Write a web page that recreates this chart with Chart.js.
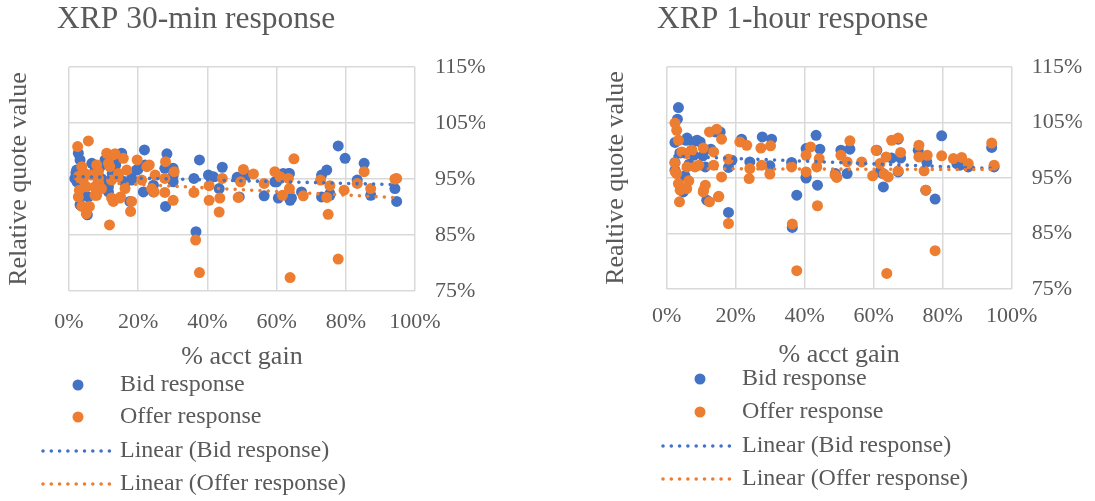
<!DOCTYPE html>
<html>
<head>
<meta charset="utf-8">
<script src="https://cdn.jsdelivr.net/npm/chart.js@4.4.1/dist/chart.umd.min.js"></script>
<style>
body { margin: 0; background: #fff; }
#wrap { position: relative; width: 1095px; height: 501px; }
canvas { position: absolute; top: 0; }
#c30 { left: 0; }
#c60 { left: 545px; }
</style>
</head>
<body>
<div id="wrap">
  <canvas id="c30" width="545" height="501"></canvas>
  <canvas id="c60" width="550" height="501"></canvas>
</div>
<script>
// ticks (percent)
const xTicks = [0, 20, 40, 60, 80, 100];
const yTicks = [75, 85, 95, 105, 115];

// XRP 30-min: [% acct gain, relative quote value %]
const bid30 = [
  [2.7,99.6],[3.2,98.4],[2.0,96.1],[2.3,94.5],[3.2,90.4],[5.3,88.6],[5.6,91.8],[6.6,97.8],[9.0,97.2],[11.4,93.6],
  [14.7,99.0],[15.2,99.6],[16.2,94.3],[18.1,95.1],[17.6,91.0],[19.9,96.7],[21.8,100.2],[21.5,92.7],[24.4,93.9],[28.3,99.5],
  [27.9,90.1],[30.1,96.9],[30.1,95.6],[36.1,95.1],[37.7,98.4],[36.7,85.6],[40.3,95.7],[41.7,95.4],[43.4,93.3],[44.3,97.1],
  [48.6,95.3],[49.2,91.8],[51.2,95.7],[56.4,92.0],[59.5,94.5],[60.5,91.6],[61.9,96.0],[63.7,96.0],[63.9,91.2],[67.2,92.7],
  [73.0,95.7],[73.0,91.8],[74.5,96.6],[77.8,100.9],[79.8,98.7],[85.3,97.8],[83.3,94.8],[87.2,92.1],[94.2,93.3],[94.7,91.0],
  [75.4,92.1],[19.5,96.6],[22.0,97.5],[27.7,96.9],[30.1,94.5],[11.4,92.7],[24.4,92.7],[18.1,94.8],[2.2,96.6],[1.7,95.1],
  [10.4,98.4],[4.6,92.1],[4.0,95.5],[7.5,96.5],[9.5,95.0],[12.5,96.0],[13.5,97.5],[49.2,95.1],[60.0,94.5],[64.3,91.6],
  [63.5,96.0],[75.4,92.4]
];
const offer30 = [
  [2.5,100.8],[5.6,101.8],[3.7,97.2],[2.7,91.8],[3.7,90.1],[5.0,88.8],[5.9,90.1],[5.1,93.6],[7.5,93.6],[8.0,92.1],
  [6.6,95.7],[10.9,99.6],[12.8,99.3],[15.7,98.7],[11.7,86.8],[12.8,91.0],[11.8,97.2],[14.3,96.0],[14.9,91.8],[18.1,91.0],
  [17.8,89.2],[19.7,98.4],[22.5,97.2],[23.2,97.5],[24.9,95.7],[23.9,93.3],[24.6,92.7],[27.9,98.1],[27.7,95.1],[27.7,92.6],
  [30.1,91.2],[30.4,96.3],[36.1,92.6],[36.6,84.1],[37.7,78.3],[40.5,93.8],[40.5,91.2],[43.6,91.6],[43.4,89.1],[44.3,95.1],
  [48.9,91.7],[49.6,94.5],[50.4,96.7],[53.3,95.9],[56.4,94.2],[59.5,96.3],[61.0,95.4],[61.7,92.1],[63.4,95.1],[63.9,77.4],
  [65.0,98.6],[63.7,93.3],[67.7,92.0],[72.7,94.8],[74.5,91.7],[74.9,88.7],[75.4,93.8],[77.8,80.7],[79.5,93.0],[83.3,94.2],
  [85.3,96.3],[87.2,93.3],[94.2,95.0],[94.7,95.1],[13.3,99.5],[8.0,97.5],[11.4,97.8],[4.1,94.8],[8.5,95.1],[12.3,94.8],
  [14.3,95.4],[16.7,96.6],[21.0,94.8],[7.5,92.1],[12.3,91.6],[14.7,91.6],[9.4,93.3],[4.6,96.0],[8.5,96.3],[16.2,93.3],
  [3.0,93.0],[2.8,95.5]
];

// XRP 1-hour
const bid60 = [
  [3.4,107.7],[3.1,105.6],[2.4,101.4],[5.6,101.8],[7.7,101.5],[9.7,101.5],[2.4,97.8],[2.4,96.4],[5.3,95.4],[4.8,92.5],
  [7.2,100.0],[11.6,91.0],[15.5,103.3],[17.9,88.8],[17.9,96.9],[21.7,102.0],[24.1,97.9],[27.7,102.4],[30.4,102.0],[29.9,97.2],
  [36.2,97.8],[36.4,86.1],[37.7,91.9],[40.4,100.3],[40.4,95.0],[43.3,102.7],[44.4,100.2],[43.7,93.7],[48.9,95.8],[50.5,100.0],
  [53.1,100.2],[52.3,95.8],[60.9,100.0],[62.8,93.4],[62.7,95.8],[65.2,98.6],[67.1,102.0],[67.8,98.6],[72.9,100.0],[75.4,97.9],
  [75.1,92.8],[77.8,91.2],[79.7,102.6],[84.1,97.6],[87.4,97.0],[94.2,100.5],[94.9,97.0],[5.9,102.2],[8.8,101.8],[11.2,97.0],
  [18.9,98.2],[14.1,103.3],[7.8,99.1],[4.4,93.1],[10.5,99.0],[12.8,100.2],[3.8,99.5],[6.5,97.5],[85.0,97.3],[61.8,96.1],
  [67.1,96.1],[40.4,95.2]
];
const offer60 = [
  [2.4,104.9],[2.9,103.6],[3.4,101.8],[2.4,97.7],[2.9,95.8],[3.4,94.0],[3.9,92.8],[3.7,90.7],[5.8,93.1],[5.8,99.4],
  [8.2,97.0],[10.6,100.4],[10.6,92.5],[12.4,103.3],[14.5,103.8],[15.9,102.0],[15.0,91.6],[12.4,90.7],[15.9,95.2],[17.9,86.8],
  [17.9,98.4],[21.2,101.5],[23.2,100.9],[23.9,94.9],[24.1,96.7],[27.3,100.4],[27.5,97.3],[30.1,100.8],[29.9,95.7],[36.2,97.0],
  [36.4,86.7],[37.7,78.3],[40.4,99.1],[41.7,100.6],[40.4,96.1],[43.5,97.0],[44.2,98.5],[43.7,90.0],[48.8,95.5],[49.3,95.1],
  [50.5,99.1],[53.1,101.7],[52.3,97.9],[56.5,97.9],[59.7,95.4],[60.7,100.0],[61.8,97.6],[63.6,98.8],[63.0,95.7],[64.2,95.2],
  [63.8,77.8],[65.2,101.8],[67.1,102.2],[67.8,99.6],[67.1,96.3],[73.1,100.9],[73.1,98.8],[75.5,99.1],[74.6,96.3],[75.1,92.8],
  [77.8,81.9],[79.7,99.0],[83.1,98.5],[85.5,98.7],[87.4,97.6],[94.2,101.3],[94.9,97.3],[4.4,99.7],[7.3,100.0],[13.6,99.7],
  [5.9,97.0],[9.3,97.3],[13.6,97.3],[2.5,96.1],[6.4,94.5],[10.7,92.8],[11.2,93.7],[15.1,91.7]
];

const blue = '#4472C4';
const orange = '#ED7D31';
const textColor = '#595959';
const gridColor = '#d9d9d9';
const family = "'Liberation Serif', 'Times New Roman', serif";

// least squares line over the data's x range (Excel "Linear" trendline)
function trend(pts) {
  const n = pts.length;
  let sx = 0, sy = 0, sxx = 0, sxy = 0;
  pts.forEach(([x, y]) => { sx += x; sy += y; sxx += x * x; sxy += x * y; });
  const b = (n * sxy - sx * sy) / (n * sxx - sx * sx);
  const a = (sy - b * sx) / n;
  const xs = pts.map(p => p[0]);
  const x0 = Math.min(...xs), x1 = Math.max(...xs);
  return [{x: x0, y: a + b * x0}, {x: x1, y: a + b * x1}];
}

const toXY = pts => pts.map(([x, y]) => ({x, y}));

// title + vertical legend, Excel style
const overlay = {
  id: 'overlay',
  afterDraw(chart, args, o) {
    const ctx = chart.ctx;
    ctx.save();
    ctx.fillStyle = textColor;
    ctx.font = '31.5px ' + family;
    ctx.textBaseline = 'alphabetic';
    ctx.fillText(o.title, o.titleX, o.titleY);
    ctx.font = '24px ' + family;
    ctx.textBaseline = 'middle';
    chart.data.datasets.forEach((ds, i) => {
      const y = o.rowY[i];
      if (ds.showLine) {
        ctx.strokeStyle = ds.borderColor;
        ctx.lineWidth = ds.borderWidth;
        ctx.lineCap = 'round';
        ctx.setLineDash(ds.borderDash);
        ctx.beginPath();
        ctx.moveTo(o.lineX0, y);
        ctx.lineTo(o.lineX1, y);
        ctx.stroke();
        ctx.setLineDash([]);
      } else {
        ctx.fillStyle = ds.backgroundColor;
        ctx.beginPath();
        ctx.arc(o.markX, y, 5.5, 0, Math.PI * 2);
        ctx.fill();
      }
      ctx.fillStyle = textColor;
      ctx.fillText(ds.label, o.textX, y);
    });
    ctx.restore();
  }
};

function makeChart(id, bid, offer, c) {
  const dots = [0, 8.3];
  return new Chart(document.getElementById(id), {
    type: 'scatter',
    data: {
      datasets: [
        { label: 'Bid response', data: toXY(bid), backgroundColor: blue, borderColor: blue,
          pointRadius: 5.5, pointBorderWidth: 0, order: 4 },
        { label: 'Offer response', data: toXY(offer), backgroundColor: orange, borderColor: orange,
          pointRadius: 5.5, pointBorderWidth: 0, order: 3 },
        { label: 'Linear (Bid response)', data: trend(bid), showLine: true, pointRadius: 0,
          borderColor: blue, backgroundColor: blue, borderWidth: 3.6, borderDash: dots,
          borderCapStyle: 'round', order: 2 },
        { label: 'Linear (Offer response)', data: trend(offer), showLine: true, pointRadius: 0,
          borderColor: orange, backgroundColor: orange, borderWidth: 3.6, borderDash: dots,
          borderCapStyle: 'round', order: 1 }
      ]
    },
    options: {
      responsive: false,
      animation: false,
      events: [],
      layout: { padding: c.padding },
      plugins: {
        legend: { display: false },
        tooltip: { enabled: false },
        overlay: c.overlay
      },
      scales: {
        x: {
          type: 'linear', position: 'bottom', min: 0, max: 100,
          afterBuildTicks: s => { s.ticks = xTicks.map(v => ({value: v})); },
          afterFit: s => { s.height = c.xAxisH; },
          grid: { color: gridColor, lineWidth: 1.5, drawTicks: false },
          border: { display: false },
          ticks: { padding: c.xTickPad, color: textColor, font: { family, size: 22 }, callback: v => v + '%' },
          title: { display: true, text: '% acct gain', color: textColor, font: { family, size: 26 }, padding: 0 }
        },
        y: {
          type: 'linear', position: 'right', min: 75, max: 115,
          afterBuildTicks: s => { s.ticks = yTicks.map(v => ({value: v})); },
          afterFit: s => { s.width = 70; },
          grid: { color: gridColor, lineWidth: 1.5, drawTicks: false },
          border: { display: false },
          ticks: { padding: 20, color: textColor, font: { family, size: 22 }, callback: v => v + '%' }
        },
        yt: {
          type: 'linear', position: 'left', min: 0, max: 1,
          afterFit: s => { s.width = c.ytW; },
          grid: { display: false },
          border: { display: false },
          ticks: { display: false },
          title: { display: true, text: c.yTitle, color: textColor, font: { family, size: 26 },
                   padding: { top: c.ytPad, bottom: 0 } }
        }
      }
    },
    plugins: [overlay]
  });
}

makeChart('c30', bid30, offer30, {
  padding: { left: 0, right: 60, top: 67, bottom: 128 },
  xAxisH: 82, xTickPad: 18, ytW: 69, ytPad: 4,
  yTitle: 'Relative quote value',
  overlay: { title: 'XRP 30-min response', titleX: 57, titleY: 28,
             rowY: [385, 417, 451, 484], markX: 78, lineX0: 43, lineX1: 113, textX: 120 }
});

makeChart('c60', bid60, offer60, {
  padding: { left: 0, right: 13.3, top: 67, bottom: 130.4 },
  xAxisH: 81.6, xTickPad: 14.5, ytW: 121.7, ytPad: 56,
  yTitle: 'Realtive quote value',
  overlay: { title: 'XRP 1-hour response', titleX: 112, titleY: 28,
             rowY: [379, 412, 446, 479], markX: 155, lineX0: 118, lineX1: 188, textX: 197 }
});
</script>
</body>
</html>
